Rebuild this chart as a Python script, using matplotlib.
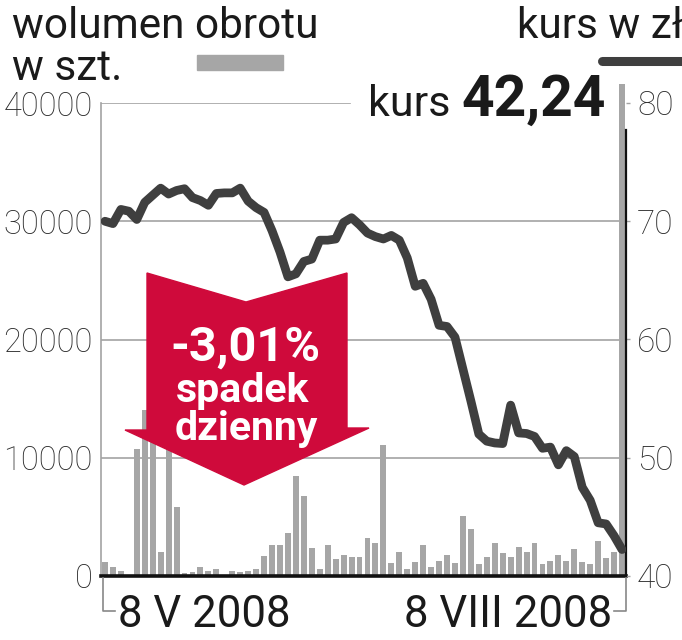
import matplotlib
matplotlib.use("Agg")
import matplotlib.pyplot as plt
import matplotlib.font_manager as fm
from matplotlib.patches import Polygon, Rectangle
from matplotlib.lines import Line2D

# dzienny wolumen obrotu (szt.), 8 V 2008 - 8 VIII 2008
volume = [1150, 790, 450, 0, 10700, 14000, 13000, 2000, 12000, 5850,
          280, 330, 750, 420, 590, 0, 400, 340, 450, 590,
          1690, 2590, 2640, 3600, 8440, 6780, 2390, 620, 2590, 1430,
          1740, 1580, 1580, 3230, 2780, 11050, 1100, 2050, 590, 1180,
          2640, 730, 1270, 1800, 1070, 5090, 3940, 990, 1630, 2760,
          1910, 1630, 2420, 2050, 2760, 990, 1290, 1800, 1290, 2250,
          1180, 1040, 2950, 1490, 2000, 41600]
# kurs zamkniecia (zl)
price = [70.0, 69.8, 71.0, 70.85, 70.15, 71.6, 72.2, 72.8, 72.3, 72.6,
         72.75, 72.0, 71.75, 71.35, 72.35, 72.4, 72.4, 72.8, 71.7, 71.15,
         70.75, 69.2, 67.4, 65.3, 65.55, 66.6, 66.8, 68.4, 68.4, 68.5,
         69.9, 70.3, 69.7, 69.0, 68.7, 68.5, 68.8, 68.4, 66.9, 64.5,
         64.75, 63.4, 61.2, 61.1, 60.2, 57.5, 54.8, 52.0, 51.4, 51.25,
         51.2, 54.45, 52.1, 52.05, 51.8, 50.8, 50.9, 49.4, 50.6, 50.1,
         47.5, 46.4, 44.5, 44.4, 43.4, 42.24]
vol_ticks = [0, 10000, 20000, 30000, 40000]
price_ticks = [40, 50, 60, 70, 80]
first_date = "8 V 2008"
last_date = "8 VIII 2008"
change = "-3,01%"

names = {f.name for f in fm.fontManager.ttflist}
font = "Roboto" if "Roboto" in names else "DejaVu Sans"
plt.rcParams["font.family"] = font

W, H = 682, 640
TXT = "#1a1a1a"
GRID = "#a3a3a3"
BAR = "#a6a6a6"
LINE = "#3f3f3f"
RED = "#cf0a3b"


def fx(px):
    return px / W


def fy(py):
    return 1 - py / H


fig = plt.figure(figsize=(W / 100, H / 100), dpi=100)
ax = fig.add_axes([fx(101), fy(576), fx(626) - fx(101), fy(103) - fy(576)])
ax2 = ax.twinx()

x = list(range(len(volume)))
ax.bar(x, volume, width=0.74, color=BAR, clip_on=False, zorder=2)
ax.set_xlim(-0.5, len(volume) - 0.5)
ax.set_ylim(0, 40000)
for v in vol_ticks[1:-1]:
    ax.axhline(v, color=GRID, lw=1.2, zorder=1)
ax.axhline(40000, xmax=(350 - 101) / 525, color=GRID, lw=1.2, zorder=1)
ax.set_yticks(vol_ticks)
ax.set_yticklabels([str(v) for v in vol_ticks])
ax.tick_params(axis="y", length=0, pad=6, labelsize=23.5, labelcolor="#2a2a2a")
for lab in ax.get_yticklabels():
    lab.set_fontweight("light")
ax.set_xticks([])
ax.spines["top"].set_visible(False)
ax.spines["right"].set_visible(False)
ax.spines["left"].set_color(GRID)
ax.spines["left"].set_linewidth(1.2)
ax.spines["bottom"].set_color("#111111")
ax.spines["bottom"].set_linewidth(2.6)
ax.spines["bottom"].set_zorder(4)

ax2.plot(x, price, color=LINE, lw=6.3, solid_capstyle="round",
         solid_joinstyle="round", zorder=3)
ax2.set_ylim(40, 80)
ax2.set_yticks(price_ticks)
ax2.tick_params(axis="y", length=3, width=1, color=GRID, pad=5,
                labelsize=24, labelcolor="#2a2a2a")
for lab in ax2.get_yticklabels():
    lab.set_fontweight("light")
for s in ["top", "left", "bottom"]:
    ax2.spines[s].set_visible(False)
ax2.spines["right"].set_color("#111111")
ax2.spines["right"].set_linewidth(1.6)
ax2.spines["right"].set_bounds(40, 77.7)

# legenda
fig.text(fx(12), fy(38), "wolumen obrotu", fontsize=30.5, color=TXT)
fig.text(fx(12), fy(80), "w szt.", fontsize=30.5, color=TXT)
fig.patches.append(Rectangle((fx(197), fy(70)), fx(86), 15 / H,
                             transform=fig.transFigure, color=BAR))
fig.text(fx(517), fy(38), "kurs w zł", fontsize=30.5, color=TXT)
fig.lines.append(Line2D([fx(602), fx(690)], [fy(61), fy(61)],
                        transform=fig.transFigure, color=LINE, lw=6.5,
                        solid_capstyle="round"))
fig.text(fx(368), fy(116), "kurs", fontsize=31, color=TXT)
fig.text(fx(606), fy(116), f"{price[-1]:.2f}".replace(".", ","),
         fontsize=41, fontweight="bold", color=TXT, ha="right")

# daty
fig.text(fx(118), fy(627), first_date, fontsize=31.5, color=TXT)
fig.text(fx(612), fy(627), last_date, fontsize=31.5, color=TXT, ha="right")
fig.lines.append(Line2D([fx(103), fx(103), fx(115)], [fy(578), fy(611), fy(611)],
                        transform=fig.transFigure, color="#888888", lw=1.2))
fig.lines.append(Line2D([fx(626), fx(626), fx(614)], [fy(578), fy(611), fy(611)],
                        transform=fig.transFigure, color="#888888", lw=1.2))

# strzalka ze zmiana dzienna
arrow = [(147, 273), (246, 302), (347, 273), (347, 428), (369, 428),
         (244, 485), (125, 430), (147, 430)]
fig.patches.append(Polygon([(fx(a), fy(b)) for a, b in arrow], closed=True,
                           transform=fig.transFigure, color=RED, zorder=5))
fig.text(fx(245), fy(361), change, fontsize=35, fontweight="bold",
         color="white", ha="center", zorder=6)
fig.text(fx(243), fy(401.5), "spadek", fontsize=29.5, fontweight="bold",
         color="white", ha="center", zorder=6)
fig.text(fx(246), fy(440), "dzienny", fontsize=29.5, fontweight="bold",
         color="white", ha="center", zorder=6)

fig.savefig("out.png", dpi=100)
